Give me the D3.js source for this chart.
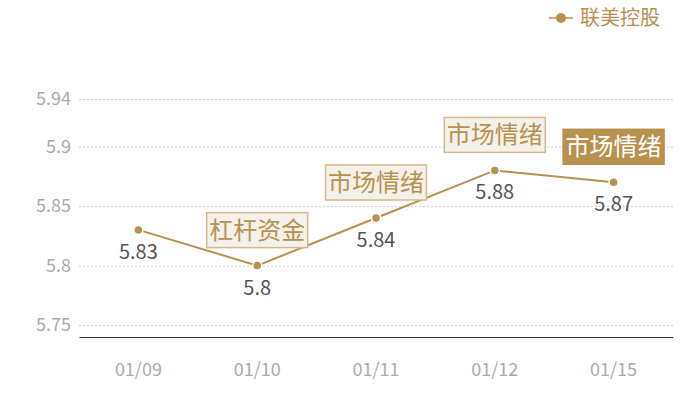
<!DOCTYPE html>
<html>
<head>
<meta charset="utf-8">
<script src="https://cdn.jsdelivr.net/npm/d3@7"></script>
<style>
  body{ margin:0; background:#fff; }
  text{ font-family:"Noto Sans CJK SC","Noto Sans",sans-serif; }
</style>
</head>
<body>
<script>
  var dates = ["01/09", "01/10", "01/11", "01/12", "01/15"];
  var values = [5.83, 5.8, 5.84, 5.88, 5.87];
  var tags = [null, "杠杆资金", "市场情绪", "市场情绪", "市场情绪"];
  var yTicks = [5.75, 5.8, 5.85, 5.9, 5.94];
  var seriesName = "联美控股";

  var chart = {
    "width":700,
    "height":400,
    "left":79,
    "right":673,
    "top":99,
    "bottom":337
  };
  var gold = "#b8914f";

  var svg = d3.select("body").append("svg")
    .attr("width", chart.width)
    .attr("height", chart.height);

  var x = d3.scaleBand().domain(dates).range([chart.left, chart.right]);
  var y = d3.scaleLinear().domain([5.74, 5.94]).range([chart.bottom, chart.top]);

  //dotted grid + y labels
  var yAxis = svg.append("g")
    .attr("transform", "translate(" + chart.left + ",0)")
    .call(d3.axisLeft(y).tickValues(yTicks).tickSize(-(chart.right - chart.left)).tickPadding(8)
      .tickFormat(function(d){ return String(d); }));
  yAxis.select(".domain").remove();
  yAxis.selectAll("line").attr("stroke", "#ccc").attr("stroke-dasharray", "2,2");
  yAxis.selectAll("text").attr("fill", "#aaa").attr("font-size", 18)
    .style("font-family", "'Noto Sans CJK SC',sans-serif");

  //x axis
  var xAxis = svg.append("g")
    .attr("transform", "translate(0," + chart.bottom + ")")
    .call(d3.axisBottom(x).tickSize(0).tickPadding(26));
  xAxis.select(".domain").attr("stroke", "#333");
  xAxis.selectAll("text").attr("fill", "#aaa").attr("font-size", 18)
    .style("font-family", "'Noto Sans CJK SC',sans-serif");

  var cx = function(d, i){ return x(dates[i]) + x.bandwidth()/2; };

  svg.append("path")
    .datum(values)
    .attr("fill", "none")
    .attr("stroke", gold)
    .attr("stroke-width", 2)
    .attr("d", d3.line().x(cx).y(function(d){ return y(d); }));

  svg.append("g").selectAll("circle")
    .data(values)
    .enter().append("circle")
    .attr("cx", cx)
    .attr("cy", function(d){ return y(d); })
    .attr("r", 4.5)
    .attr("fill", gold)
    .attr("stroke", "#fff")
    .attr("stroke-width", 1.5);

  //value labels under points
  svg.append("g").selectAll("text")
    .data(values)
    .enter().append("text")
    .attr("x", cx)
    .attr("y", function(d){ return y(d) + 29; })
    .attr("text-anchor", "middle")
    .attr("font-size", 20)
    .attr("fill", "#555")
    .text(function(d){ return String(d); });

  //tag boxes above points, last one highlighted
  var boxW = 101, boxH = 35;
  var last = values.length - 1;
  var tagG = svg.append("g").selectAll("g")
    .data(d3.range(values.length).filter(function(i){ return tags[i] !== null; }))
    .enter().append("g")
    .attr("transform", function(i){
      return "translate(" + (cx(values[i], i) - boxW/2) + "," + (y(values[i]) - 18 - boxH) + ")";
    });
  tagG.append("rect")
    .attr("width", boxW)
    .attr("height", boxH)
    .attr("fill", function(i){ return i === last ? gold : "#f4f0ea"; })
    .attr("stroke", function(i){ return i === last ? gold : "#d4b98f"; })
    .attr("stroke-width", 1.5);
  tagG.append("text")
    .attr("x", boxW/2)
    .attr("y", boxH/2 + 8.5)
    .attr("text-anchor", "middle")
    .attr("font-size", 24)
    .attr("fill", function(i){ return i === last ? "#fff" : gold; })
    .text(function(i){ return tags[i]; });

  //legend
  var legend = svg.append("g").attr("transform", "translate(549,18)");
  legend.append("line").attr("x1", 0).attr("x2", 24).attr("y1", 0).attr("y2", 0)
    .attr("stroke", gold).attr("stroke-width", 1.5);
  legend.append("circle").attr("cx", 12).attr("r", 5).attr("fill", gold);
  legend.append("text").attr("x", 31).attr("y", 7).attr("font-size", 20)
    .attr("fill", gold).text(seriesName);
</script>
</body>
</html>
